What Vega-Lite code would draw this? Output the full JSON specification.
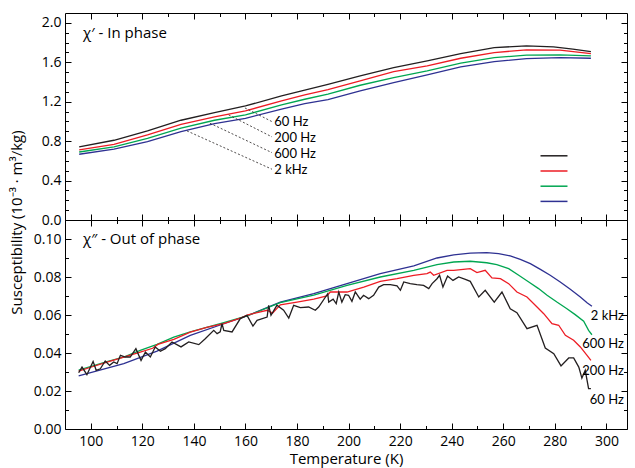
{
  "$schema": "https://vega.github.io/schema/vega-lite/v6.json",
  "padding": {"left": 10, "top": 12, "right": 4, "bottom": 2},
  "config": {
    "font": "Open Sans",
    "view": {"stroke": null},
    "axis": {"domainColor": "#000", "tickColor": "#000", "labelColor": "#000", "titleColor": "#000", "labelFont": "Open Sans", "titleFont": "Open Sans", "labelFontSize": 14, "grid": false, "labelOverlap": false, "labelBound": false, "labelFlush": false, "tickWidth": 1, "domainWidth": 1}
  },
  "title": {"text": "Susceptibility (10⁻³ · m³/kg)", "orient": "left", "anchor": "middle", "fontSize": 15, "fontWeight": "normal", "font": "Open Sans", "color": "#000", "offset": 8, "dx": 17},
  "spacing": 0,
  "bounds": "flush",
  "resolve": {"legend": {"color": "independent"}},
  "datasets": {
    "inphase": [
      {"T": 95.5, "chi": 0.667, "f": "2 kHz"}, {"T": 109, "chi": 0.718, "f": "2 kHz"}, {"T": 122, "chi": 0.795, "f": "2 kHz"}, {"T": 135, "chi": 0.897, "f": "2 kHz"}, {"T": 148, "chi": 0.978, "f": "2 kHz"}, {"T": 160, "chi": 1.032, "f": "2 kHz"}, {"T": 174, "chi": 1.124, "f": "2 kHz"}, {"T": 183, "chi": 1.181, "f": "2 kHz"}, {"T": 192, "chi": 1.222, "f": "2 kHz"}, {"T": 204.5, "chi": 1.31, "f": "2 kHz"}, {"T": 217.5, "chi": 1.394, "f": "2 kHz"}, {"T": 230.5, "chi": 1.472, "f": "2 kHz"}, {"T": 243.5, "chi": 1.553, "f": "2 kHz"}, {"T": 256.5, "chi": 1.607, "f": "2 kHz"}, {"T": 269, "chi": 1.638, "f": "2 kHz"}, {"T": 282, "chi": 1.648, "f": "2 kHz"}, {"T": 294, "chi": 1.641, "f": "2 kHz"},
      {"T": 95.5, "chi": 0.69, "f": "600 Hz"}, {"T": 109, "chi": 0.741, "f": "600 Hz"}, {"T": 122, "chi": 0.829, "f": "600 Hz"}, {"T": 135, "chi": 0.931, "f": "600 Hz"}, {"T": 148, "chi": 1.012, "f": "600 Hz"}, {"T": 160, "chi": 1.066, "f": "600 Hz"}, {"T": 174, "chi": 1.168, "f": "600 Hz"}, {"T": 183, "chi": 1.225, "f": "600 Hz"}, {"T": 192, "chi": 1.278, "f": "600 Hz"}, {"T": 204.5, "chi": 1.367, "f": "600 Hz"}, {"T": 217.5, "chi": 1.445, "f": "600 Hz"}, {"T": 230.5, "chi": 1.513, "f": "600 Hz"}, {"T": 243.5, "chi": 1.591, "f": "600 Hz"}, {"T": 256.5, "chi": 1.648, "f": "600 Hz"}, {"T": 269, "chi": 1.672, "f": "600 Hz"}, {"T": 282, "chi": 1.675, "f": "600 Hz"}, {"T": 294, "chi": 1.665, "f": "600 Hz"},
      {"T": 95.5, "chi": 0.711, "f": "200 Hz"}, {"T": 109, "chi": 0.768, "f": "200 Hz"}, {"T": 122, "chi": 0.863, "f": "200 Hz"}, {"T": 135, "chi": 0.971, "f": "200 Hz"}, {"T": 148, "chi": 1.046, "f": "200 Hz"}, {"T": 160, "chi": 1.107, "f": "200 Hz"}, {"T": 174, "chi": 1.208, "f": "200 Hz"}, {"T": 183, "chi": 1.269, "f": "200 Hz"}, {"T": 192, "chi": 1.322, "f": "200 Hz"}, {"T": 204.5, "chi": 1.411, "f": "200 Hz"}, {"T": 217.5, "chi": 1.506, "f": "200 Hz"}, {"T": 230.5, "chi": 1.563, "f": "200 Hz"}, {"T": 243.5, "chi": 1.641, "f": "200 Hz"}, {"T": 256.5, "chi": 1.699, "f": "200 Hz"}, {"T": 269, "chi": 1.726, "f": "200 Hz"}, {"T": 282, "chi": 1.723, "f": "200 Hz"}, {"T": 294, "chi": 1.688, "f": "200 Hz"},
      {"T": 95.5, "chi": 0.741, "f": "60 Hz"}, {"T": 109, "chi": 0.809, "f": "60 Hz"}, {"T": 122, "chi": 0.904, "f": "60 Hz"}, {"T": 135, "chi": 1.012, "f": "60 Hz"}, {"T": 148, "chi": 1.089, "f": "60 Hz"}, {"T": 160, "chi": 1.157, "f": "60 Hz"}, {"T": 174, "chi": 1.259, "f": "60 Hz"}, {"T": 183, "chi": 1.317, "f": "60 Hz"}, {"T": 192, "chi": 1.375, "f": "60 Hz"}, {"T": 204.5, "chi": 1.462, "f": "60 Hz"}, {"T": 217.5, "chi": 1.546, "f": "60 Hz"}, {"T": 230.5, "chi": 1.614, "f": "60 Hz"}, {"T": 243.5, "chi": 1.689, "f": "60 Hz"}, {"T": 256.5, "chi": 1.749, "f": "60 Hz"}, {"T": 269, "chi": 1.767, "f": "60 Hz"}, {"T": 279.5, "chi": 1.756, "f": "60 Hz"}, {"T": 287, "chi": 1.733, "f": "60 Hz"}, {"T": 294, "chi": 1.709, "f": "60 Hz"}
    ],
    "outphase": [
      {"T": 95.3, "chi": 0.0279, "f": "2 kHz"}, {"T": 112.8, "chi": 0.0344, "f": "2 kHz"}, {"T": 125.7, "chi": 0.041, "f": "2 kHz"}, {"T": 138.6, "chi": 0.0493, "f": "2 kHz"}, {"T": 151.6, "chi": 0.0554, "f": "2 kHz"}, {"T": 160.6, "chi": 0.0595, "f": "2 kHz"}, {"T": 173.5, "chi": 0.0668, "f": "2 kHz"}, {"T": 186.5, "chi": 0.0712, "f": "2 kHz"}, {"T": 199.4, "chi": 0.0765, "f": "2 kHz"}, {"T": 212.3, "chi": 0.0818, "f": "2 kHz"}, {"T": 225.3, "chi": 0.0858, "f": "2 kHz"}, {"T": 234.3, "chi": 0.09, "f": "2 kHz"}, {"T": 240.8, "chi": 0.0917, "f": "2 kHz"}, {"T": 247.2, "chi": 0.0926, "f": "2 kHz"}, {"T": 253.6, "chi": 0.0928, "f": "2 kHz"}, {"T": 258.2, "chi": 0.0923, "f": "2 kHz"}, {"T": 262.7, "chi": 0.0911, "f": "2 kHz"}, {"T": 266.6, "chi": 0.0893, "f": "2 kHz"}, {"T": 270.5, "chi": 0.087, "f": "2 kHz"}, {"T": 274.4, "chi": 0.084, "f": "2 kHz"}, {"T": 278.2, "chi": 0.0809, "f": "2 kHz"}, {"T": 282.1, "chi": 0.0774, "f": "2 kHz"}, {"T": 286, "chi": 0.0735, "f": "2 kHz"}, {"T": 289.9, "chi": 0.0695, "f": "2 kHz"}, {"T": 292.5, "chi": 0.0665, "f": "2 kHz"}, {"T": 294.4, "chi": 0.0646, "f": "2 kHz"},
      {"T": 95.3, "chi": 0.031, "f": "600 Hz"}, {"T": 106.3, "chi": 0.0355, "f": "600 Hz"}, {"T": 113, "chi": 0.038, "f": "600 Hz"}, {"T": 119.2, "chi": 0.0414, "f": "600 Hz"}, {"T": 125.7, "chi": 0.0445, "f": "600 Hz"}, {"T": 132.2, "chi": 0.0484, "f": "600 Hz"}, {"T": 138.6, "chi": 0.0511, "f": "600 Hz"}, {"T": 151.6, "chi": 0.056, "f": "600 Hz"}, {"T": 160.6, "chi": 0.0595, "f": "600 Hz"}, {"T": 173.5, "chi": 0.0665, "f": "600 Hz"}, {"T": 186.5, "chi": 0.0704, "f": "600 Hz"}, {"T": 199.4, "chi": 0.0756, "f": "600 Hz"}, {"T": 212.3, "chi": 0.08, "f": "600 Hz"}, {"T": 225.3, "chi": 0.0835, "f": "600 Hz"}, {"T": 234.3, "chi": 0.0865, "f": "600 Hz"}, {"T": 240.8, "chi": 0.0879, "f": "600 Hz"}, {"T": 247.2, "chi": 0.0883, "f": "600 Hz"}, {"T": 253.6, "chi": 0.0875, "f": "600 Hz"}, {"T": 257.5, "chi": 0.0865, "f": "600 Hz"}, {"T": 262.1, "chi": 0.0844, "f": "600 Hz"}, {"T": 266, "chi": 0.0809, "f": "600 Hz"}, {"T": 269.9, "chi": 0.0774, "f": "600 Hz"}, {"T": 273.7, "chi": 0.0739, "f": "600 Hz"}, {"T": 277, "chi": 0.0704, "f": "600 Hz"}, {"T": 280.8, "chi": 0.0668, "f": "600 Hz"}, {"T": 284.7, "chi": 0.0633, "f": "600 Hz"}, {"T": 287.9, "chi": 0.0602, "f": "600 Hz"}, {"T": 291.2, "chi": 0.0567, "f": "600 Hz"}, {"T": 293.1, "chi": 0.0519, "f": "600 Hz"}, {"T": 294.4, "chi": 0.0496, "f": "600 Hz"},
      {"T": 95.3, "chi": 0.0305, "f": "200 Hz"}, {"T": 100, "chi": 0.0325, "f": "200 Hz"}, {"T": 106.3, "chi": 0.0352, "f": "200 Hz"}, {"T": 112.8, "chi": 0.0378, "f": "200 Hz"}, {"T": 119.2, "chi": 0.0405, "f": "200 Hz"}, {"T": 124, "chi": 0.0425, "f": "200 Hz"}, {"T": 126, "chi": 0.0445, "f": "200 Hz"}, {"T": 132.2, "chi": 0.0472, "f": "200 Hz"}, {"T": 138.6, "chi": 0.051, "f": "200 Hz"}, {"T": 145, "chi": 0.0535, "f": "200 Hz"}, {"T": 151.6, "chi": 0.0555, "f": "200 Hz"}, {"T": 158, "chi": 0.0583, "f": "200 Hz"}, {"T": 160.6, "chi": 0.06, "f": "200 Hz"}, {"T": 168.4, "chi": 0.0625, "f": "200 Hz"}, {"T": 170.5, "chi": 0.061, "f": "200 Hz"}, {"T": 173.5, "chi": 0.0654, "f": "200 Hz"}, {"T": 180, "chi": 0.0668, "f": "200 Hz"}, {"T": 186.5, "chi": 0.0683, "f": "200 Hz"}, {"T": 191.6, "chi": 0.07, "f": "200 Hz"}, {"T": 192.9, "chi": 0.0721, "f": "200 Hz"}, {"T": 199.4, "chi": 0.0721, "f": "200 Hz"}, {"T": 205.9, "chi": 0.0747, "f": "200 Hz"}, {"T": 212.3, "chi": 0.0777, "f": "200 Hz"}, {"T": 218.8, "chi": 0.0791, "f": "200 Hz"}, {"T": 225.3, "chi": 0.0809, "f": "200 Hz"}, {"T": 230.4, "chi": 0.0818, "f": "200 Hz"}, {"T": 231.7, "chi": 0.0826, "f": "200 Hz"}, {"T": 233, "chi": 0.0809, "f": "200 Hz"}, {"T": 238.2, "chi": 0.0835, "f": "200 Hz"}, {"T": 240.8, "chi": 0.0835, "f": "200 Hz"}, {"T": 247.2, "chi": 0.0844, "f": "200 Hz"}, {"T": 249.8, "chi": 0.0823, "f": "200 Hz"}, {"T": 253, "chi": 0.0835, "f": "200 Hz"}, {"T": 255.6, "chi": 0.0795, "f": "200 Hz"}, {"T": 258.9, "chi": 0.0791, "f": "200 Hz"}, {"T": 262.1, "chi": 0.0765, "f": "200 Hz"}, {"T": 265.3, "chi": 0.0721, "f": "200 Hz"}, {"T": 269.2, "chi": 0.0695, "f": "200 Hz"}, {"T": 273.1, "chi": 0.0642, "f": "200 Hz"}, {"T": 275.7, "chi": 0.0607, "f": "200 Hz"}, {"T": 278.9, "chi": 0.0554, "f": "200 Hz"}, {"T": 281.5, "chi": 0.0546, "f": "200 Hz"}, {"T": 284.1, "chi": 0.0493, "f": "200 Hz"}, {"T": 287.3, "chi": 0.0467, "f": "200 Hz"}, {"T": 289.9, "chi": 0.0432, "f": "200 Hz"}, {"T": 292.5, "chi": 0.0388, "f": "200 Hz"}, {"T": 294, "chi": 0.0361, "f": "200 Hz"},
      {"T": 95.3, "chi": 0.0296, "f": "60 Hz"}, {"T": 96.6, "chi": 0.0326, "f": "60 Hz"}, {"T": 98.5, "chi": 0.0286, "f": "60 Hz"}, {"T": 100.9, "chi": 0.0356, "f": "60 Hz"}, {"T": 102.1, "chi": 0.0309, "f": "60 Hz"}, {"T": 103.7, "chi": 0.0317, "f": "60 Hz"}, {"T": 105.6, "chi": 0.0358, "f": "60 Hz"}, {"T": 107.3, "chi": 0.0335, "f": "60 Hz"}, {"T": 108.9, "chi": 0.0353, "f": "60 Hz"}, {"T": 110.2, "chi": 0.0344, "f": "60 Hz"}, {"T": 111.5, "chi": 0.0388, "f": "60 Hz"}, {"T": 113.4, "chi": 0.0379, "f": "60 Hz"}, {"T": 115.3, "chi": 0.0379, "f": "60 Hz"}, {"T": 117.5, "chi": 0.0423, "f": "60 Hz"}, {"T": 119.5, "chi": 0.0361, "f": "60 Hz"}, {"T": 121.2, "chi": 0.0405, "f": "60 Hz"}, {"T": 123.1, "chi": 0.0379, "f": "60 Hz"}, {"T": 125, "chi": 0.0432, "f": "60 Hz"}, {"T": 127, "chi": 0.0409, "f": "60 Hz"}, {"T": 128.9, "chi": 0.0423, "f": "60 Hz"}, {"T": 131.5, "chi": 0.0458, "f": "60 Hz"}, {"T": 135, "chi": 0.0432, "f": "60 Hz"}, {"T": 138, "chi": 0.0458, "f": "60 Hz"}, {"T": 141.9, "chi": 0.0444, "f": "60 Hz"}, {"T": 144.4, "chi": 0.0475, "f": "60 Hz"}, {"T": 147.7, "chi": 0.0519, "f": "60 Hz"}, {"T": 149, "chi": 0.0502, "f": "60 Hz"}, {"T": 150.2, "chi": 0.0511, "f": "60 Hz"}, {"T": 150.9, "chi": 0.0554, "f": "60 Hz"}, {"T": 151.6, "chi": 0.0519, "f": "60 Hz"}, {"T": 154.8, "chi": 0.0511, "f": "60 Hz"}, {"T": 158, "chi": 0.0581, "f": "60 Hz"}, {"T": 160.6, "chi": 0.0598, "f": "60 Hz"}, {"T": 162.9, "chi": 0.0542, "f": "60 Hz"}, {"T": 164.5, "chi": 0.0572, "f": "60 Hz"}, {"T": 168.4, "chi": 0.0589, "f": "60 Hz"}, {"T": 169, "chi": 0.0651, "f": "60 Hz"}, {"T": 169.9, "chi": 0.0598, "f": "60 Hz"}, {"T": 172.2, "chi": 0.0651, "f": "60 Hz"}, {"T": 174.8, "chi": 0.0625, "f": "60 Hz"}, {"T": 176.8, "chi": 0.0584, "f": "60 Hz"}, {"T": 178.7, "chi": 0.0651, "f": "60 Hz"}, {"T": 181.3, "chi": 0.0639, "f": "60 Hz"}, {"T": 184.5, "chi": 0.0642, "f": "60 Hz"}, {"T": 187.1, "chi": 0.0625, "f": "60 Hz"}, {"T": 188.4, "chi": 0.0642, "f": "60 Hz"}, {"T": 191.9, "chi": 0.0712, "f": "60 Hz"}, {"T": 192.3, "chi": 0.0668, "f": "60 Hz"}, {"T": 194, "chi": 0.0683, "f": "60 Hz"}, {"T": 195.2, "chi": 0.066, "f": "60 Hz"}, {"T": 196.2, "chi": 0.0721, "f": "60 Hz"}, {"T": 197.4, "chi": 0.0668, "f": "60 Hz"}, {"T": 198.7, "chi": 0.0707, "f": "60 Hz"}, {"T": 200, "chi": 0.0704, "f": "60 Hz"}, {"T": 201.3, "chi": 0.0672, "f": "60 Hz"}, {"T": 202.6, "chi": 0.0721, "f": "60 Hz"}, {"T": 204.5, "chi": 0.0683, "f": "60 Hz"}, {"T": 205.8, "chi": 0.0704, "f": "60 Hz"}, {"T": 207.8, "chi": 0.0686, "f": "60 Hz"}, {"T": 209.7, "chi": 0.0704, "f": "60 Hz"}, {"T": 211.7, "chi": 0.0747, "f": "60 Hz"}, {"T": 213.6, "chi": 0.076, "f": "60 Hz"}, {"T": 216.2, "chi": 0.076, "f": "60 Hz"}, {"T": 218.8, "chi": 0.0753, "f": "60 Hz"}, {"T": 220.1, "chi": 0.073, "f": "60 Hz"}, {"T": 221.4, "chi": 0.0774, "f": "60 Hz"}, {"T": 223.9, "chi": 0.0765, "f": "60 Hz"}, {"T": 226.5, "chi": 0.076, "f": "60 Hz"}, {"T": 229.1, "chi": 0.0756, "f": "60 Hz"}, {"T": 231.1, "chi": 0.0739, "f": "60 Hz"}, {"T": 232.4, "chi": 0.0765, "f": "60 Hz"}, {"T": 234.3, "chi": 0.0791, "f": "60 Hz"}, {"T": 235.3, "chi": 0.0809, "f": "60 Hz"}, {"T": 236.6, "chi": 0.0747, "f": "60 Hz"}, {"T": 238.4, "chi": 0.0805, "f": "60 Hz"}, {"T": 240.5, "chi": 0.0782, "f": "60 Hz"}, {"T": 242.7, "chi": 0.08, "f": "60 Hz"}, {"T": 245.3, "chi": 0.0788, "f": "60 Hz"}, {"T": 247.2, "chi": 0.0777, "f": "60 Hz"}, {"T": 250.5, "chi": 0.0695, "f": "60 Hz"}, {"T": 253, "chi": 0.073, "f": "60 Hz"}, {"T": 256.5, "chi": 0.0668, "f": "60 Hz"}, {"T": 259.5, "chi": 0.0721, "f": "60 Hz"}, {"T": 262.7, "chi": 0.0633, "f": "60 Hz"}, {"T": 265.3, "chi": 0.0612, "f": "60 Hz"}, {"T": 269.2, "chi": 0.0528, "f": "60 Hz"}, {"T": 273.1, "chi": 0.0546, "f": "60 Hz"}, {"T": 276.3, "chi": 0.0426, "f": "60 Hz"}, {"T": 279.6, "chi": 0.0396, "f": "60 Hz"}, {"T": 282.4, "chi": 0.0332, "f": "60 Hz"}, {"T": 285.4, "chi": 0.0374, "f": "60 Hz"}, {"T": 287.3, "chi": 0.0374, "f": "60 Hz"}, {"T": 289.3, "chi": 0.0326, "f": "60 Hz"}, {"T": 290.5, "chi": 0.0268, "f": "60 Hz"}, {"T": 291.8, "chi": 0.0309, "f": "60 Hz"}, {"T": 293.1, "chi": 0.0212, "f": "60 Hz"}, {"T": 294, "chi": 0.0212, "f": "60 Hz"}
    ],
    "leaders": [
      {"f": "60 Hz", "T1": 159.8, "v1": 1.137, "T2": 170.3, "v2": 0.998},
      {"f": "200 Hz", "T1": 153.5, "v1": 1.066, "T2": 170.3, "v2": 0.843},
      {"f": "600 Hz", "T1": 146.2, "v1": 0.982, "T2": 170.3, "v2": 0.683},
      {"f": "2 kHz", "T1": 137.3, "v1": 0.904, "T2": 170.3, "v2": 0.515}
    ],
    "toplabels": [
      {"label": "60 Hz", "T": 171.2, "v": 0.998},
      {"label": "200 Hz", "T": 171.2, "v": 0.836},
      {"label": "600 Hz", "T": 171.2, "v": 0.673},
      {"label": "2 kHz", "T": 171.2, "v": 0.511}
    ],
    "botlabels": [
      {"label": "2 kHz", "T": 306.8, "v": 0.0595},
      {"label": "600 Hz", "T": 306.8, "v": 0.0449},
      {"label": "200 Hz", "T": 306.8, "v": 0.0304},
      {"label": "60 Hz", "T": 306.8, "v": 0.0151}
    ],
    "toptitle": [{"label": "χ′ - In phase", "T": 97, "v": 1.9}],
    "bottitle": [{"label": "χ″ - Out of phase", "T": 97, "v": 0.0998}]
  },
  "vconcat": [
    {
      "width": 562,
      "height": 207,
      "resolve": {"axis": {"x": "independent", "y": "independent"}},
      "layer": [
        {
          "data": {"name": "inphase"},
          "mark": {"type": "line", "strokeWidth": 1.3},
          "encoding": {
            "x": {"field": "T", "type": "quantitative", "scale": {"domain": [90, 308], "nice": false, "zero": false},
              "axis": {"orient": "bottom", "title": null, "labels": false, "values": [100, 110, 120, 130, 140, 150, 160, 170, 180, 190, 200, 210, 220, 230, 240, 250, 260, 270, 280, 290, 300],
                "tickSize": {"condition": {"test": "datum.value % 20 === 0", "value": -6}, "value": -3.5}}},
            "y": {"field": "chi", "type": "quantitative", "scale": {"domain": [0, 2.1], "nice": false},
              "axis": {"orient": "left", "title": null, "values": [0, 0.1, 0.2, 0.3, 0.4, 0.5, 0.6, 0.7, 0.8, 0.9, 1.0, 1.1, 1.2, 1.3, 1.4, 1.5, 1.6, 1.7, 1.8, 1.9, 2.0],
                "tickSize": {"condition": {"test": "round(datum.value*10) % 4 === 0", "value": -6}, "value": -3.5},
                "labelExpr": "round(datum.value*10) % 4 === 0 ? format(datum.value, '.1f') : ''", "labelPadding": 10}},
            "color": {"field": "f", "type": "nominal",
              "scale": {"domain": ["60 Hz", "200 Hz", "600 Hz", "2 kHz"], "range": ["#231f20", "#ed1c24", "#00a651", "#2e3192"]},
              "legend": {"orient": "none", "legendX": 481.5, "legendY": 135.3, "title": null, "labelExpr": "''", "labelOffset": 0, "padding": 0,
                "symbolType": "M-2,0H2", "symbolSize": 182, "symbolStrokeWidth": 1.5, "rowPadding": 2.2}}
          }
        },
        {
          "data": {"name": "leaders"},
          "mark": {"type": "rule", "strokeDash": [2, 2], "color": "#231f20", "strokeWidth": 0.8},
          "encoding": {
            "x": {"field": "T1", "type": "quantitative",
              "axis": {"orient": "top", "title": null, "labels": false, "values": [100, 110, 120, 130, 140, 150, 160, 170, 180, 190, 200, 210, 220, 230, 240, 250, 260, 270, 280, 290, 300],
                "tickSize": {"condition": {"test": "datum.value % 20 === 0", "value": -6}, "value": -3.5}}},
            "y": {"field": "v1", "type": "quantitative",
              "axis": {"orient": "right", "title": null, "labels": false, "values": [0, 0.1, 0.2, 0.3, 0.4, 0.5, 0.6, 0.7, 0.8, 0.9, 1.0, 1.1, 1.2, 1.3, 1.4, 1.5, 1.6, 1.7, 1.8, 1.9, 2.0],
                "tickSize": {"condition": {"test": "round(datum.value*10) % 4 === 0", "value": -6}, "value": -3.5}}},
            "x2": {"field": "T2"},
            "y2": {"field": "v2"}
          }
        },
        {
          "data": {"name": "toplabels"},
          "mark": {"type": "text", "align": "left", "baseline": "middle", "fontSize": 13, "font": "Lato", "color": "#000"},
          "encoding": {
            "x": {"field": "T", "type": "quantitative", "axis": null},
            "y": {"field": "v", "type": "quantitative", "axis": null},
            "text": {"field": "label"}
          }
        },
        {
          "data": {"name": "toptitle"},
          "mark": {"type": "text", "align": "left", "baseline": "middle", "fontSize": 15, "font": "Open Sans", "color": "#000"},
          "encoding": {
            "x": {"field": "T", "type": "quantitative", "axis": null},
            "y": {"field": "v", "type": "quantitative", "axis": null},
            "text": {"field": "label"}
          }
        }
      ]
    },
    {
      "width": 562,
      "height": 209,
      "resolve": {"axis": {"x": "independent", "y": "independent"}},
      "layer": [
        {
          "data": {"name": "outphase"},
          "mark": {"type": "line", "strokeWidth": 1.3},
          "encoding": {
            "x": {"field": "T", "type": "quantitative", "scale": {"domain": [90, 308], "nice": false, "zero": false},
              "axis": {"orient": "bottom", "title": "Temperature (K)", "titleFontSize": 15, "titleFontWeight": "normal", "titlePadding": 1,
                "values": [100, 110, 120, 130, 140, 150, 160, 170, 180, 190, 200, 210, 220, 230, 240, 250, 260, 270, 280, 290, 300],
                "tickSize": {"condition": {"test": "datum.value % 20 === 0", "value": -6}, "value": -3.5},
                "labelExpr": "datum.value % 20 === 0 ? datum.label : ''", "labelPadding": 11}},
            "y": {"field": "chi", "type": "quantitative", "scale": {"domain": [0, 0.11], "nice": false},
              "axis": {"orient": "left", "title": null, "values": [0, 0.01, 0.02, 0.03, 0.04, 0.05, 0.06, 0.07, 0.08, 0.09, 0.1],
                "tickSize": {"condition": {"test": "round(datum.value*100) % 2 === 0", "value": -6}, "value": -3.5},
                "labelExpr": "round(datum.value*100) % 2 === 0 ? format(datum.value, '.2f') : ''", "labelPadding": 10}},
            "color": {"field": "f", "type": "nominal",
              "scale": {"domain": ["60 Hz", "200 Hz", "600 Hz", "2 kHz"], "range": ["#231f20", "#ed1c24", "#00a651", "#2e3192"]},
              "legend": null}
          }
        },
        {
          "data": {"name": "botlabels"},
          "mark": {"type": "text", "align": "right", "baseline": "middle", "fontSize": 13, "font": "Lato", "color": "#000"},
          "encoding": {
            "x": {"field": "T", "type": "quantitative",
              "axis": {"orient": "top", "title": null, "labels": false, "values": [100, 110, 120, 130, 140, 150, 160, 170, 180, 190, 200, 210, 220, 230, 240, 250, 260, 270, 280, 290, 300],
                "tickSize": {"condition": {"test": "datum.value % 20 === 0", "value": -6}, "value": -3.5}}},
            "y": {"field": "v", "type": "quantitative",
              "axis": {"orient": "right", "title": null, "labels": false, "values": [0, 0.01, 0.02, 0.03, 0.04, 0.05, 0.06, 0.07, 0.08, 0.09, 0.1],
                "tickSize": {"condition": {"test": "round(datum.value*100) % 2 === 0", "value": -6}, "value": -3.5}}},
            "text": {"field": "label"}
          }
        },
        {
          "data": {"name": "bottitle"},
          "mark": {"type": "text", "align": "left", "baseline": "middle", "fontSize": 15, "font": "Open Sans", "color": "#000"},
          "encoding": {
            "x": {"field": "T", "type": "quantitative", "axis": null},
            "y": {"field": "v", "type": "quantitative", "axis": null},
            "text": {"field": "label"}
          }
        }
      ]
    }
  ]
}
